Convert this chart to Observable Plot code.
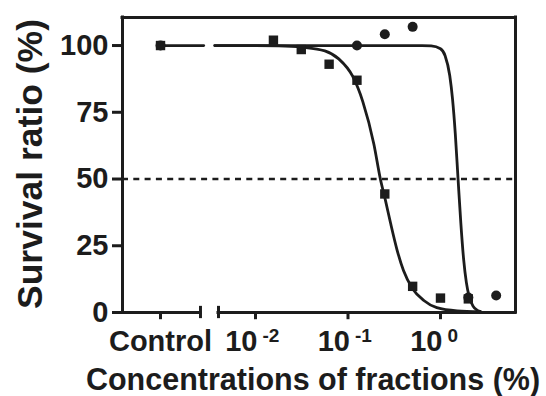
<!DOCTYPE html>
<html><head><meta charset="utf-8">
<script src="https://cdn.jsdelivr.net/npm/d3@7"></script>
<script src="https://cdn.jsdelivr.net/npm/@observablehq/plot@0.6"></script>
<style>
body{margin:0;background:#fff}
svg{font-family:"Liberation Sans",Arial,Helvetica,sans-serif;font-weight:bold}
</style>
</head><body><div id="chart"></div>
<script>
// ---- data ----
const controlLabel = "Control";
const xTickExponents = [-2, -1, 0];
const yTicks = [0, 25, 50, 75, 100];
const yLabel = "Survival ratio (%)";
const xLabel = "Concentrations of fractions (%)";

const squareConc = [1/64, 1/32, 1/16, 1/8, 1/4, 1/2, 1, 2];
const squareVal  = [102, 98.5, 93, 87, 44.4, 9.8, 5.4, 5.1];
const squareControl = 100;

const circleConc = [1/8, 1/4, 1/2, 2, 4];
const circleVal  = [100, 104.2, 107, 5.6, 6.4];
const circleControl = 100;

// fitted curves (log10 concentration, survival %)
const squareCurveLog = [-2.44, -2.0, -1.75, -1.5, -1.25, -1.1, -0.95, -0.84, -0.72, -0.65, -0.595, -0.54, -0.47, -0.4, -0.3, -0.18, -0.04, 0.18, 0.43];
const squareCurveVal = [100, 100, 99.9, 99.4, 98, 95, 88.5, 79, 63, 50, 42, 33.5, 23.5, 15.7, 8.8, 4.5, 1.8, 0.6, 0.3];
const circleCurveLog = [-2.44, -1.0, -0.2, -0.1, 0, 0.05, 0.1, 0.13, 0.16, 0.19, 0.22, 0.25, 0.28, 0.31, 0.35, 0.4, 0.43];
const circleCurveVal = [100, 100, 100, 99.9, 98.8, 96.2, 88.8, 80, 67, 50, 33.5, 20, 11.2, 6, 2.5, 0.8, 0.4];

// ---- layout of the broken log axis ----
const xDomainLog = [-3.438, 0.811];
const controlLog = -3.027;
const breakLog = [-2.595, -2.4];
const controlLineEndLog = -2.56;
const yMax = 110.5;

const p = v => Math.pow(10, v);
const xmin = p(xDomainLog[0]), xmax = p(xDomainLog[1]);
const ctrlX = p(controlLog);
const ink = "#1c1c1c";

const squares = [{x: ctrlX, y: squareControl}, ...squareConc.map((c, i) => ({x: c, y: squareVal[i]}))];
const circles = [{x: ctrlX, y: circleControl}, ...circleConc.map((c, i) => ({x: c, y: circleVal[i]}))];
const squareCurve = squareCurveLog.map((l, i) => ({x: p(l), y: squareCurveVal[i]}));
const circleCurve = circleCurveLog.map((l, i) => ({x: p(l), y: circleCurveVal[i]}));
const controlLine = [{x: ctrlX, y: squareControl}, {x: p(controlLineEndLog), y: squareControl}];

const chart = Plot.plot({
  width: 546, height: 396,
  marginLeft: 122, marginRight: 31, marginTop: 17, marginBottom: 84,
  x: {type: "log", domain: [xmin, xmax], axis: null},
  y: {domain: [0, yMax], axis: null},
  marks: [
    Plot.ruleY([50], {stroke: ink, strokeWidth: 2.6, strokeDasharray: "6,5.3"}),
    Plot.line(controlLine, {x: "x", y: "y", stroke: ink, strokeWidth: 2.8}),
    Plot.line(squareCurve, {x: "x", y: "y", stroke: ink, strokeWidth: 2.8, curve: "monotone-x"}),
    Plot.line(circleCurve, {x: "x", y: "y", stroke: ink, strokeWidth: 2.8, curve: "monotone-x"}),
    // frame
    Plot.ruleX([xmin, xmax], {stroke: ink, strokeWidth: 3, strokeLinecap: "square"}),
    Plot.ruleY([yMax], {stroke: ink, strokeWidth: 3, strokeLinecap: "square"}),
    // broken bottom axis
    Plot.ruleY([0], {x1: xmin, x2: p(breakLog[0]), stroke: ink, strokeWidth: 3, strokeLinecap: "square"}),
    Plot.ruleY([0], {x1: p(breakLog[1]), x2: xmax, stroke: ink, strokeWidth: 3, strokeLinecap: "square"}),
    Plot.ruleX(breakLog.map(p), {y1: -2.3, y2: 2.3, stroke: ink, strokeWidth: 3}),
    Plot.ruleX([ctrlX, ...xTickExponents.map(p)], {y1: 0, y2: -2.7, stroke: ink, strokeWidth: 3}),
    // y axis
    Plot.axisY(yTicks, {tickSize: 10, tickPadding: 4, strokeWidth: 3, stroke: ink, fill: ink, fontSize: 29, fontWeight: "bold", label: null}),
    // x tick labels
    Plot.text([controlLabel], {x: ctrlX, y: 0, text: d => d, dy: 18, lineAnchor: "top", fontSize: 29, fontWeight: "bold", fill: ink}),
    Plot.text(xTickExponents, {x: e => p(e), y: 0, text: () => "10", dx: 2, dy: 18, lineAnchor: "top", textAnchor: "end", fontSize: 29, fontWeight: "bold", fill: ink}),
    Plot.text(xTickExponents, {x: e => p(e), y: 0, text: e => String(e), dx: 7, dy: 16, lineAnchor: "top", textAnchor: "start", fontSize: 19, fontWeight: "bold", fill: ink}),
    // points
    Plot.dot(circles, {x: "x", y: "y", r: 5, fill: ink, symbol: "circle"}),
    Plot.dot(squares, {x: "x", y: "y", r: 5.3, fill: ink, symbol: "square"}),
    // titles
    Plot.text([yLabel], {frameAnchor: "left", rotate: -90, dx: -92, dy: -1, textAnchor: "middle", lineAnchor: "middle", fontSize: 35.5, fontWeight: "bold", fill: ink}),
    Plot.text([xLabel], {frameAnchor: "bottom", lineAnchor: "top", textAnchor: "middle", dy: 56, dx: -6, fontSize: 30.5, fontWeight: "bold", fill: ink})
  ]
});
document.getElementById("chart").appendChild(chart);
</script>
</body></html>
